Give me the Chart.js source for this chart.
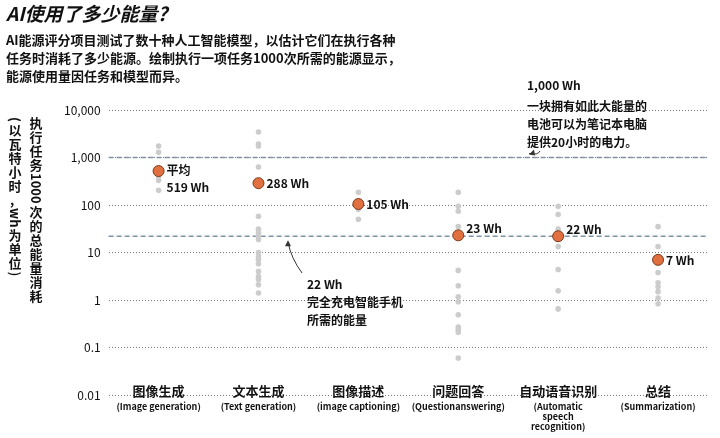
<!DOCTYPE html>
<html><head><meta charset="utf-8">
<script src="https://cdn.jsdelivr.net/npm/chart.js@4/dist/chart.umd.min.js"></script>
<style>body{margin:0;background:#fff}#wrap{width:720px;height:438px}</style>
</head><body><div id="wrap"><canvas id="c"></canvas></div>
<script>
// categories
var catCn = ['图像生成', '文本生成', '图像描述', '问题回答', '自动语音识别', '总结'];
var catEn = [['(Image generation)'], ['(Text generation)'], ['(image captioning)'], ['(Questionanswering)'], ['(Automatic', 'speech', 'recognition)'], ['(Summarization)']];
// averages (Wh per 1000 tasks)
var averages = [519, 288, 105, 23, 22, 7];
// individual models
var models = [
    [1740, 1290, 405, 330, 204],
    [3450, 1920, 1740, 630, 58, 31, 26, 22, 18.8, 10, 8.2, 7.1, 5.8, 4.0, 3.1, 2.7, 2.1, 1.4],
    [186, 114, 81, 50],
    [186, 94, 74, 35, 4.2, 2.0, 1.17, 0.92, 0.49, 0.27, 0.24, 0.21, 0.06],
    [94, 63, 31, 19, 13.4, 4.4, 1.57, 0.65],
    [35, 13.4, 3.8, 2.3, 1.9, 1.5, 1.1, 0.83]
];
var yTicks = [0.01, 0.1, 1, 10, 100, 1000, 10000];
var refLines = [1000, 22];

var gray = [], avg = [];
models.forEach(function (arr, i) {
    arr.forEach(function (v) { gray.push({ x: i, y: v }); });
});
averages.forEach(function (v, i) { avg.push({ x: i, y: v }); });

var F = '"Noto Sans CJK SC", "Noto Sans", sans-serif';

// vertical text, CJK upright, latin runs rotated
function vText(ctx, str, x, y) {
    var runs = str.match(/[0-9a-z(),]+|./g);
    runs.forEach(function (r) {
        if (/^[0-9a-z(),]+$/.test(r)) {
            var w = ctx.measureText(r).width;
            ctx.save(); ctx.translate(x, y + w / 2 + 1); ctx.rotate(Math.PI / 2);
            ctx.textBaseline = 'middle';
            ctx.fillText(r, 0, 0); ctx.restore();
            y += w + 2;
        } else {
            ctx.textBaseline = 'middle';
            ctx.fillText(r, x, y + 7);
            y += 14;
        }
    });
}

var extras = {
    id: 'extras',
    beforeDatasetsDraw: function (chart) {
        var ctx = chart.ctx, a = chart.chartArea, ys = chart.scales.y;
        ctx.save();
        ctx.strokeStyle = '#7f93a8';
        ctx.lineWidth = 1.3;
        ctx.setLineDash([5, 3]);
        refLines.forEach(function (v) {
            var y = ys.getPixelForValue(v);
            ctx.beginPath(); ctx.moveTo(a.left, y); ctx.lineTo(a.right, y); ctx.stroke();
        });
        ctx.restore();
    },
    afterDraw: function (chart) {
        var ctx = chart.ctx, xs = chart.scales.x, ys = chart.scales.y;
        ctx.save();
        ctx.fillStyle = '#111';
        ctx.textBaseline = 'alphabetic';
        ctx.font = 'italic bold 19px ' + F;
        ctx.fillText('AI使用了多少能量?', 6, 21);
        ctx.font = 'bold 13px ' + F;
        ctx.fillText('AI能源评分项目测试了数十种人工智能模型，以估计它们在执行各种', 6, 45);
        ctx.fillText('任务时消耗了多少能源。绘制执行一项任务1000次所需的能源显示，', 6, 63);
        ctx.fillText('能源使用量因任务和模型而异。', 6, 81);

        ctx.font = 'bold 13px ' + F;
        ctx.textAlign = 'center';
        vText(ctx, '执行任务1000次的总能量消耗', 36, 116);
        vText(ctx, '(以瓦特小时，wh为单位)', 15, 116);

        ctx.textBaseline = 'alphabetic';
        catCn.forEach(function (t, i) {
            var x = xs.getPixelForValue(i);
            ctx.font = 'bold 13px ' + F;
            ctx.fillText(t, x, 396);
            ctx.font = 'bold 9px ' + F;
            catEn[i].forEach(function (s, k) { ctx.fillText(s, x, 410 + k * 10); });
        });

        ctx.textAlign = 'left';
        ctx.font = 'bold 12px ' + F;
        averages.forEach(function (v, i) {
            var x = xs.getPixelForValue(i) + 8, y = ys.getPixelForValue(v);
            if (i === 0) {
                ctx.fillText('平均', x, y + 4);
                ctx.fillText(v + ' Wh', x, y + 21);
            } else if (i === 3 || i === 4) {
                ctx.fillText(v + ' Wh', x, y - 2);
            } else {
                ctx.fillText(v + ' Wh', x, y + 5);
            }
        });

        ctx.fillText('1,000 Wh', 527, 90);
        ctx.fillText('一块拥有如此大能量的', 527, 111);
        ctx.fillText('电池可以为笔记本电脑', 527, 129);
        ctx.fillText('提供20小时的电力。', 527, 147);
        ctx.fillText('22 Wh', 307, 289);
        ctx.fillText('完全充电智能手机', 307, 307);
        ctx.fillText('所需的能量', 307, 325);

        ctx.strokeStyle = '#333'; ctx.fillStyle = '#333'; ctx.lineWidth = 1;
        var y1 = ys.getPixelForValue(1000), y2 = ys.getPixelForValue(22);
        ctx.beginPath(); ctx.moveTo(540, 151); ctx.quadraticCurveTo(538, y1 - 2, 529, y1 - 4); ctx.stroke();
        ctx.beginPath(); ctx.moveTo(529, y1 - 3); ctx.lineTo(534, y1 - 8); ctx.lineTo(535, y1 - 2); ctx.fill();
        ctx.beginPath(); ctx.moveTo(302, 273); ctx.quadraticCurveTo(291, 258, 288, y2 + 6); ctx.stroke();
        ctx.beginPath(); ctx.moveTo(288, y2 + 4); ctx.lineTo(285, y2 + 10); ctx.lineTo(291, y2 + 10); ctx.fill();
        ctx.restore();
    }
};

new Chart(document.getElementById('c'), {
    type: 'scatter',
    data: {
        datasets: [
            { data: avg, backgroundColor: '#e0703f', borderColor: '#7a3a1c', borderWidth: 1, pointRadius: 5.5 },
            { data: gray, backgroundColor: '#cccccc', borderWidth: 0, pointRadius: 2.8 }
        ]
    },
    options: {
        responsive: true, maintainAspectRatio: false, animation: false,
        layout: { padding: { top: 110, left: 56, right: 12, bottom: 43 } },
        plugins: { legend: { display: false }, tooltip: { enabled: false } },
        scales: {
            x: { type: 'linear', min: -0.5, max: 5.5, display: false },
            y: {
                type: 'logarithmic', min: 0.01, max: 10000,
                afterBuildTicks: function (s) { s.ticks = yTicks.map(function (v) { return { value: v }; }); },
                ticks: {
                    color: '#111', font: { size: 12, family: F }, padding: 8,
                    callback: function (v) { return v >= 1000 ? v.toLocaleString('en-US') : String(v); }
                },
                grid: { color: '#555', lineWidth: 0.8, drawTicks: false },
                border: { display: false, dash: [1, 2] }
            }
        }
    },
    plugins: [extras]
});
</script></body></html>
